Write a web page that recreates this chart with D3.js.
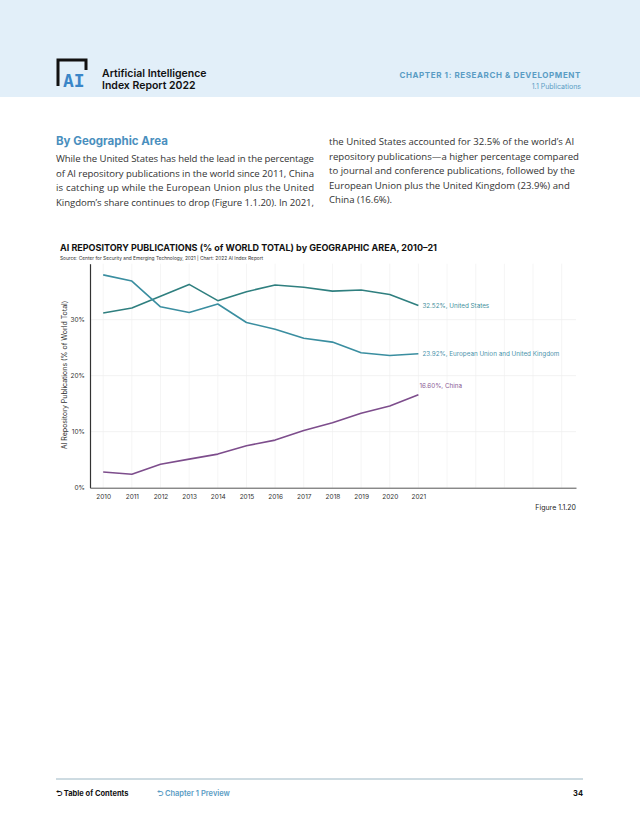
<!DOCTYPE html>
<html><head><meta charset="utf-8">
<script src="https://cdn.jsdelivr.net/npm/d3@7"></script>
<style>body{margin:0;background:#fff}svg{display:block}</style>
</head><body>
<script>
const years = [2010,2011,2012,2013,2014,2015,2016,2017,2018,2019,2020,2021];
const usValues = [31.2,32.1,34.2,36.3,33.4,35.0,36.2,35.8,35.1,35.3,34.5,32.52];
const euValues = [38.0,36.9,32.3,31.3,32.8,29.5,28.3,26.7,26.0,24.1,23.6,23.92];
const cnValues = [2.8,2.4,4.2,5.1,6.0,7.5,8.5,10.2,11.6,13.3,14.6,16.60];
const seriesNames = ["United States","European Union and United Kingdom","China"];
const yTicks = [0,10,20,30];
const yTickLabels = ["0%","10%","20%","30%"];

const W=640,H=828;
const svg=d3.select("body").append("svg").attr("width",W).attr("height",H);
const font="Inter, 'Open Sans', sans-serif";

// header
svg.append("rect").attr("x",0).attr("y",0).attr("width",W).attr("height",97).attr("fill","#e2eff9");
// logo
svg.append("path").attr("d","M58,86 L58,60 L86,60 L86,70").attr("fill","none").attr("stroke","#111").attr("stroke-width",3);
svg.append("text").attr("x",63).attr("y",87).attr("font-family","'DejaVu Sans Mono', monospace").attr("font-weight","bold").attr("font-size",18).attr("fill","#3a86c8").text("AI");
svg.append("text").attr("x",102).attr("y",77).attr("font-family",font).attr("font-weight",600).attr("font-size",10.5).attr("fill","#111").text("Artificial Intelligence");
svg.append("text").attr("x",102).attr("y",89).attr("font-family",font).attr("font-weight",600).attr("font-size",10.5).attr("fill","#111").text("Index Report 2022");
svg.append("text").attr("x",581).attr("y",78).attr("text-anchor","end").attr("font-family",font).attr("font-weight",700).attr("font-size",8).attr("letter-spacing",0.6).attr("fill","#5a9cc4").text("CHAPTER 1: RESEARCH & DEVELOPMENT");
svg.append("text").attr("x",581).attr("y",89).attr("text-anchor","end").attr("font-family",font).attr("font-size",7).attr("fill","#5a9cc4").text("1.1 Publications");

// body text
svg.append("text").attr("x",56).attr("y",145).attr("font-family",font).attr("font-weight",700).attr("font-size",11.5).attr("fill","#4a8fbe").text("By Geographic Area");
const leftLines=["While the United States has held the lead in the percentage","of AI repository publications in the world since 2011, China","is catching up while the European Union plus the United","Kingdom’s share continues to drop (Figure 1.1.20). In 2021,"];
const rightLines=["the United States accounted for 32.5% of the world’s AI","repository publications—a higher percentage compared","to journal and conference publications, followed by the","European Union plus the United Kingdom (23.9%) and","China (16.6%)."];
const tf="'Open Sans', 'Noto Sans', sans-serif";
leftLines.forEach((l,i)=>svg.append("text").attr("x",56).attr("y",162+i*14.7).attr("font-family",tf).attr("font-size",9.6).attr("fill","#333").attr("textLength",l.length>40?258:null).text(l));
rightLines.forEach((l,i)=>svg.append("text").attr("x",329).attr("y",145+i*14.6).attr("font-family",tf).attr("font-size",9.6).attr("fill","#333").text(l));

// chart title
svg.append("text").attr("x",60).attr("y",251).attr("font-family",font).attr("font-weight",700).attr("font-size",9).attr("fill","#111").text("AI REPOSITORY PUBLICATIONS (% of WORLD TOTAL) by GEOGRAPHIC AREA, 2010–21");
svg.append("text").attr("x",60).attr("y",260).attr("font-family",font).attr("font-size",4.8).attr("fill","#333").text("Source: Center for Security and Emerging Technology, 2021 | Chart: 2022 AI Index Report");

// scales
const x=d3.scaleLinear().domain([2009.54,2026.5]).range([90,576]);
const y=d3.scaleLinear().domain([0,40]).range([487.7,263.7]);

const g=svg.append("g");
// grid
for(let yr=2010;yr<=2026;yr++) g.append("line").attr("x1",x(yr)).attr("x2",x(yr)).attr("y1",y(40)).attr("y2",y(0)).attr("stroke","#f2f2f2").attr("stroke-width",0.8);
yTicks.slice(1).forEach(t=>g.append("line").attr("x1",90).attr("x2",576).attr("y1",y(t)).attr("y2",y(t)).attr("stroke","#eeeeee").attr("stroke-width",0.8));

// axes
const yAxis=d3.axisLeft(y).tickValues(yTicks).tickFormat((d,i)=>yTickLabels[i]).tickSize(0).tickPadding(5);
const ya=svg.append("g").attr("transform","translate(90,0)").call(yAxis);
ya.select(".domain").attr("stroke","#333").attr("stroke-width",1.2);
ya.selectAll("text").attr("font-family",font).attr("font-size",6.5).attr("fill","#333");
const xAxis=d3.axisBottom(x).tickValues(years).tickFormat(d3.format("d")).tickSize(0).tickPadding(7);
const xa=svg.append("g").attr("transform","translate(0,487.7)").call(xAxis);
xa.select(".domain").attr("stroke","#555").attr("stroke-width",1);
xa.selectAll("text").attr("font-family",font).attr("font-size",6.5).attr("fill","#333");

svg.append("text").attr("transform","translate(67,375) rotate(-90)").attr("text-anchor","middle").attr("font-family",font).attr("font-size",7).attr("fill","#333").text("AI Repository Publications (% of World Total)");

const series=[
 {name:seriesNames[0],vals:usValues,color:"#2f7f7f",label:"32.52%, United States",lc:"#3f8f9c"},
 {name:seriesNames[1],vals:euValues,color:"#3a8ea0",label:"23.92%, European Union and United Kingdom",lc:"#4a93ab"},
 {name:seriesNames[2],vals:cnValues,color:"#7d4d8c",label:"16.60%, China",lc:"#8a5e95"}
];
const line=d3.line().x(d=>x(d[0])).y(d=>y(d[1]));
series.forEach((s,k)=>{
  const pts=years.map((yr,i)=>[yr,s.vals[i]]);
  svg.append("path").datum(pts).attr("d",line).attr("fill","none").attr("stroke",s.color).attr("stroke-width",1.6).attr("stroke-linejoin","round");
  const last=pts[pts.length-1];
  if(k<2){
    svg.append("text").attr("x",x(2021)+4).attr("y",y(last[1])+2.3).attr("font-family",font).attr("font-size",6.3).attr("fill",s.lc).text(s.label);
  } else {
    svg.append("text").attr("x",x(2021)+1).attr("y",y(last[1])-7).attr("font-family",font).attr("font-size",6.3).attr("fill",s.lc).text(s.label);
  }
});

svg.append("text").attr("x",576).attr("y",510).attr("text-anchor","end").attr("font-family",font).attr("font-size",7).attr("fill","#222").text("Figure 1.1.20");

// footer
svg.append("line").attr("x1",56).attr("x2",583).attr("y1",779).attr("y2",779).attr("stroke","#9cb7c4").attr("stroke-width",1);
svg.append("text").attr("x",56).attr("y",796).attr("font-family",font).attr("font-weight",700).attr("font-size",7.5).attr("fill","#111").text("⮌ Table of Contents");
svg.append("text").attr("x",157).attr("y",796).attr("font-family",font).attr("font-weight",600).attr("font-size",7.5).attr("fill","#5a9cc4").text("⮌ Chapter 1 Preview");
svg.append("text").attr("x",583).attr("y",796).attr("text-anchor","end").attr("font-family",font).attr("font-weight",700).attr("font-size",7.5).attr("fill","#111").text("34");
</script>
</body></html>
